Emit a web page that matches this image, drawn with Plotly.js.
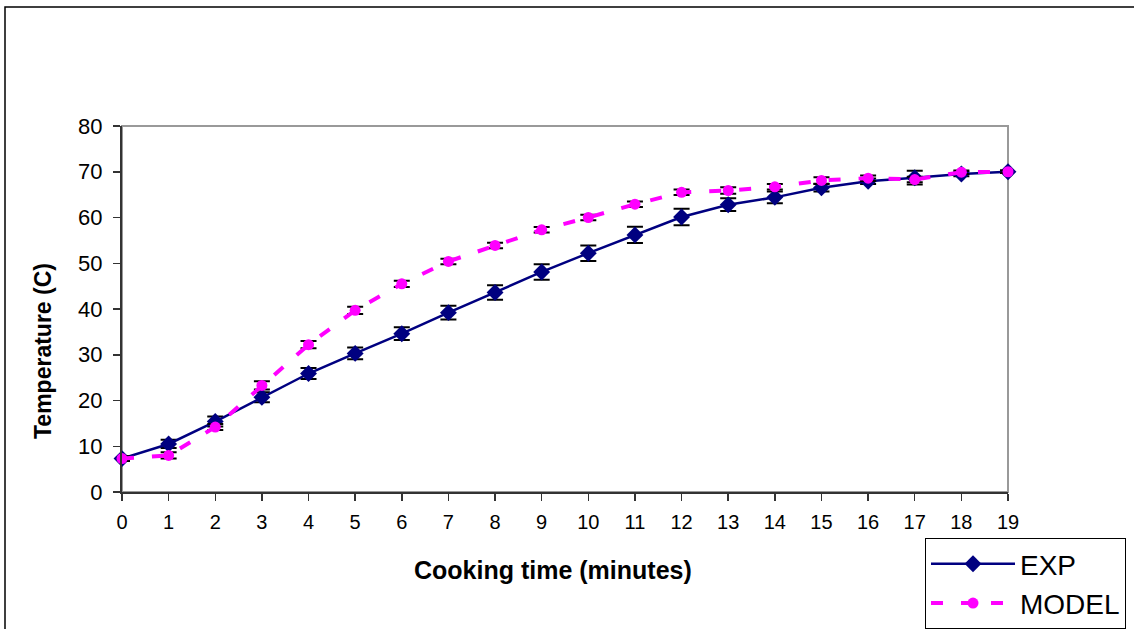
<!DOCTYPE html>
<html>
<head>
<meta charset="utf-8">
<script src="https://cdn.plot.ly/plotly-3.0.1.min.js"></script>
<style>html,body{margin:0;padding:0;background:#fff;}#chart{width:1134px;height:629px;}</style>
</head>
<body>
<div id="chart"></div>
<script>
var minutes = [0,1,2,3,4,5,6,7,8,9,10,11,12,13,14,15,16,17,18,19];
var expTemp = [7.3,10.5,15.4,20.7,25.9,30.3,34.6,39.2,43.6,48.1,52.2,56.2,60.1,62.8,64.4,66.5,67.9,68.7,69.5,70.0];
var expErr = [0.5,0.9,1.1,1.1,1.2,1.3,1.4,1.5,1.6,1.7,1.7,1.8,1.8,1.4,1.3,0.8,0.6,1.5,0.5,0.3];
var modelTemp = [7.3,8.0,14.2,23.3,32.2,39.7,45.5,50.4,53.9,57.3,60.0,62.9,65.5,65.9,66.7,68.1,68.6,68.3,69.9,70.0];
var modelErr = [0.5,0.7,0.65,0.9,0.8,0.8,0.7,0.6,0.6,0.6,0.6,0.6,0.6,0.7,0.6,0.7,0.6,0.6,0.4,0.3];
var yTicks = [0,10,20,30,40,50,60,70,80];

var W = 1134, H = 629, L = 122, R = 1008, T = 126, B = 492;
function px(x){ return (x - L) / (R - L); }
function py(y){ return (B - y) / (B - T); }

var traces = [
  {
    x: minutes, y: expTemp, name: 'EXP', type: 'scatter', mode: 'lines+markers',
    legendgroup: 'a', cliponaxis: false,
    line: {color: '#000080', width: 2.5},
    marker: {symbol: 'diamond', size: 13, color: '#000080'},
    error_y: {type: 'data', array: expErr, visible: true, color: '#000000', thickness: 2, width: 8}
  },
  {
    x: minutes, y: modelTemp, name: 'MODEL', type: 'scatter', mode: 'lines+markers',
    legendgroup: 'b', cliponaxis: false,
    line: {color: '#FF00FF', width: 4, dash: '12px,18px'},
    marker: {symbol: 'circle', size: 11, color: '#FF00FF'},
    error_y: {type: 'data', array: modelErr, visible: true, color: '#000000', thickness: 2, width: 8}
  }
];

var layout = {
  width: W, height: H,
  margin: {l: L, r: W - R, t: T, b: H - B, pad: 0, autoexpand: false},
  paper_bgcolor: '#ffffff', plot_bgcolor: '#ffffff',
  font: {family: 'Liberation Sans, Arial, sans-serif', color: '#000000', size: 20},
  showlegend: true,
  xaxis: {
    range: [0, 19], tickvals: minutes, ticktext: minutes.map(String),
    showgrid: false, zeroline: false, showline: true, linecolor: '#333333', linewidth: 2,
    ticks: 'outside', ticklen: 7, tickwidth: 1.5, tickcolor: '#333333',
    tickfont: {size: 20}, ticklabelstandoff: 4, fixedrange: true
  },
  yaxis: {
    range: [0, 80], tickvals: yTicks, ticktext: yTicks.map(String),
    showgrid: false, zeroline: false, showline: true, linecolor: '#333333', linewidth: 2,
    ticks: 'outside', ticklen: 7, tickwidth: 1.5, tickcolor: '#333333',
    tickfont: {size: 22}, ticklabelstandoff: 6, fixedrange: true
  },
  legend: {
    xref: 'container', yref: 'container',
    x: 925 / W, y: 1 - 538 / H, xanchor: 'left', yanchor: 'top',
    bgcolor: '#ffffff', bordercolor: '#000000', borderwidth: 1,
    font: {size: 28, family: 'Liberation Sans, Arial, sans-serif'},
    itemwidth: 84, tracegroupgap: 0, traceorder: 'normal'
  },
  shapes: [
    {type: 'rect', xref: 'paper', yref: 'paper', x0: 0, x1: 1, y0: 0, y1: 1,
     line: {color: '#999999', width: 2}, layer: 'below'},
    {type: 'rect', xref: 'paper', yref: 'paper', x0: px(5), x1: px(W + 20), y0: py(H + 20), y1: py(7),
     line: {color: '#000000', width: 1.5}, layer: 'below'}
  ],
  annotations: [
    {text: '<b>Cooking time (minutes)</b>', xref: 'paper', yref: 'paper',
     x: px(553), y: py(570), xanchor: 'center', yanchor: 'middle', showarrow: false,
     font: {size: 25}},
    {text: '<b>Temperature (C)</b>', xref: 'paper', yref: 'paper',
     x: px(43), y: py(351), xanchor: 'center', yanchor: 'middle', showarrow: false,
     textangle: -90, font: {size: 23}}
  ]
};

Plotly.newPlot('chart', traces, layout, {displayModeBar: false, staticPlot: true});
</script>
</body>
</html>
